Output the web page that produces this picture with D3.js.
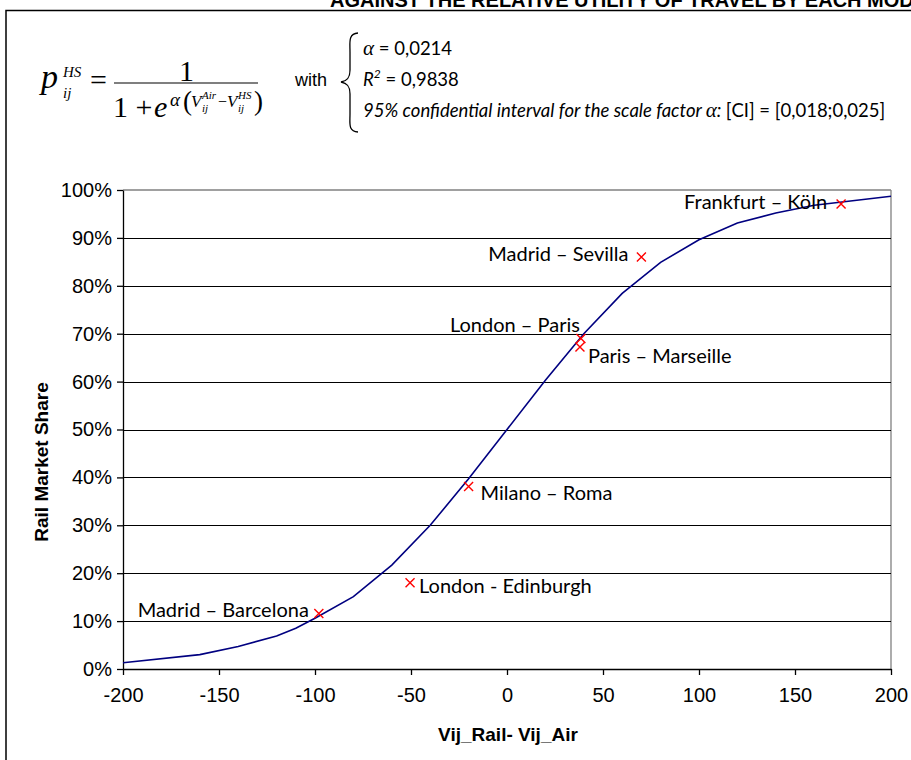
<!DOCTYPE html>
<html><head><meta charset="utf-8">
<script src="https://cdn.jsdelivr.net/npm/d3@7"></script>
<style>body{margin:0;background:#fff}svg{display:block}</style>
</head><body>
<svg id="c" width="911" height="760"></svg>
<script>
// ---- data ----
const curveX = [-200,-160,-140,-120,-110,-100,-80,-60,-40,-20,0,20,40,60,80,100,120,140,160,200];
const curveY = [0.013,0.030,0.047,0.069,0.085,0.106,0.151,0.217,0.300,0.397,0.500,0.603,0.700,0.784,0.849,0.896,0.931,0.952,0.968,0.987];
const routes = ["Madrid – Barcelona","London - Edinburgh","Milano – Roma","London – Paris","Paris – Marseille","Madrid – Sevilla","Frankfurt – Köln"];
const routeX = [-98,-50.5,-20,38.5,38,70,174];
const routeY = [0.116,0.180,0.381,0.690,0.672,0.860,0.971];
const xTicks = [-200,-150,-100,-50,0,50,100,150,200];
const yTicks = [0,0.1,0.2,0.3,0.4,0.5,0.6,0.7,0.8,0.9,1.0];
// label placement (px offsets from marker)
const labelPos = [
  {a:"end",dx:-10,dy:4},{a:"start",dx:9,dy:10},{a:"start",dx:12,dy:13},
  {a:"end",dx:-1,dy:-6},{a:"start",dx:8,dy:16},{a:"end",dx:-13,dy:4},{a:"end",dx:-14,dy:5}];

const svg = d3.select("#c");
const L=123,R=891,T=190,B=669;
const x = d3.scaleLinear().domain([-200,200]).range([L,R]);
const y = d3.scaleLinear().domain([0,1]).range([B,T]);

// title (cut off at top, as in the reference)
svg.append("text").attr("x",330).attr("y",7).attr("font-family","Liberation Sans, Arial").attr("font-weight","bold")
  .attr("font-size",20).attr("fill","#000").text("AGAINST THE RELATIVE UTILITY OF TRAVEL BY EACH MODE");

// outer frame
svg.append("rect").attr("x",6).attr("y",10.5).attr("width",1000).attr("height",1000)
  .attr("fill","none").attr("stroke","#000").attr("stroke-width",1.5);

// formula
const f = svg.append("g").attr("font-family","Liberation Serif, Times New Roman, serif").attr("fill","#000");
f.append("text").attr("x",41).attr("y",88).attr("font-size",34).attr("font-style","italic").text("p");
f.append("text").attr("x",63).attr("y",77).attr("font-size",15).attr("font-style","italic").text("HS");
f.append("text").attr("x",63).attr("y",98).attr("font-size",15).attr("font-style","italic").text("ij");
f.append("text").attr("x",90).attr("y",90).attr("font-size",30).text("=");
f.append("line").attr("x1",114).attr("x2",258).attr("y1",83).attr("y2",83).attr("stroke","#000").attr("stroke-width",1.2);
f.append("text").attr("x",179).attr("y",81).attr("font-size",30).text("1");
f.append("text").attr("x",113).attr("y",117).attr("font-size",30).text("1 + ");
f.append("text").attr("x",154).attr("y",117).attr("font-size",30).attr("font-style","italic").text("e");
f.append("text").attr("x",170).attr("y",106).attr("font-size",19).attr("font-style","italic").text("α");
f.append("text").attr("x",183).attr("y",110).attr("font-size",27).text("(");
f.append("text").attr("x",191).attr("y",107).attr("font-size",17).attr("font-style","italic").text("V");
f.append("text").attr("x",202).attr("y",99).attr("font-size",11).attr("font-style","italic").text("Air");
f.append("text").attr("x",202).attr("y",112).attr("font-size",11).attr("font-style","italic").text("ij");
f.append("text").attr("x",218).attr("y",107).attr("font-size",16).text("−");
f.append("text").attr("x",227).attr("y",107).attr("font-size",17).attr("font-style","italic").text("V");
f.append("text").attr("x",238).attr("y",99).attr("font-size",11).attr("font-style","italic").text("HS");
f.append("text").attr("x",238).attr("y",112).attr("font-size",11).attr("font-style","italic").text("ij");
f.append("text").attr("x",254).attr("y",110).attr("font-size",27).text(")");

svg.append("text").attr("x",295).attr("y",86).attr("font-family","Liberation Sans, Arial").attr("font-size",18).text("with");
// brace
svg.append("path").attr("d","M358,33 C348,34 350,42 350,52 L350,70 C350,78 347,81 341,82 C347,83 350,86 350,94 L350,114 C350,124 348,131 358,132")
  .attr("fill","none").attr("stroke","#000").attr("stroke-width",1.3);
const g2 = svg.append("g").attr("font-family","Lato, Noto Sans, sans-serif").attr("font-size",18.5).attr("fill","#000");
const t1 = g2.append("text").attr("x",363).attr("y",55);
t1.append("tspan").attr("font-family","Liberation Serif, serif").attr("font-style","italic").attr("font-size",21).text("α");
t1.append("tspan").text(" = 0,0214");
const t2 = g2.append("text").attr("x",363).attr("y",86);
t2.append("tspan").attr("font-style","italic").text("R");
t2.append("tspan").attr("font-style","italic").attr("font-size",12).attr("dy",-8).text("2");
t2.append("tspan").attr("dy",8).text(" =  0,9838");
const t3 = g2.append("text").attr("x",363).attr("y",117);
t3.append("tspan").attr("font-style","italic").text("95% confidential interval for the scale factor ");
t3.append("tspan").attr("font-family","Liberation Serif, serif").attr("font-style","italic").attr("font-size",21).text("α");
t3.append("tspan").attr("font-style","italic").text(": ");
t3.append("tspan").text("[CI] = [0,018;0,025]");

// plot frame top & right (gray)
svg.append("line").attr("x1",L).attr("x2",R).attr("y1",T).attr("y2",T).attr("stroke","#808080").attr("stroke-width",1.3);
svg.append("line").attr("x1",R).attr("x2",R).attr("y1",T).attr("y2",B).attr("stroke","#808080").attr("stroke-width",1.3);

// grid
svg.append("g").selectAll("line").data(yTicks.filter(d=>d>0&&d<1)).join("line")
  .attr("x1",L).attr("x2",R).attr("y1",d=>Math.round(y(d))+0.5).attr("y2",d=>Math.round(y(d))+0.5).attr("stroke","#000").attr("stroke-width",1);

// axes
const ax = svg.append("g").attr("transform",`translate(0,${B})`)
  .call(d3.axisBottom(x).tickValues(xTicks).tickSize(6).tickSizeOuter(0).tickFormat(d=>String(d)).tickPadding(13));
const ay = svg.append("g").attr("transform",`translate(${L},0)`)
  .call(d3.axisLeft(y).tickValues(yTicks).tickSize(6).tickSizeOuter(0).tickFormat(d=>Math.round(d*100)+"%").tickPadding(5));
[ax,ay].forEach(a=>{
  a.selectAll("text").attr("font-family","Liberation Sans, Arial").attr("font-size",20).attr("fill","#000");
  a.selectAll("path,line").attr("stroke","#000").attr("stroke-width",1.3);
});

// curve
svg.append("path").datum(curveX.map((d,i)=>[d,curveY[i]]))
  .attr("d",d3.line().x(d=>x(d[0])).y(d=>y(d[1])))
  .attr("fill","none").attr("stroke","#000080").attr("stroke-width",1.6);

// markers
const pts = routes.map((r,i)=>({r,x:routeX[i],y:routeY[i],p:labelPos[i]}));
const m = svg.append("g").selectAll("g").data(pts).join("g").attr("transform",d=>`translate(${x(d.x)},${y(d.y)})`);
m.append("path").attr("d","M-4.5,-4.5L4.5,4.5M-4.5,4.5L4.5,-4.5").attr("stroke","#FF0000").attr("stroke-width",1.4);
m.append("text").attr("x",d=>d.p.dx).attr("y",d=>d.p.dy).attr("text-anchor",d=>d.p.a)
  .attr("font-family","Lato, Noto Sans, sans-serif").attr("font-size",20).attr("fill","#000").text(d=>d.r);

// axis titles
svg.append("text").attr("x",(L+R)/2+1).attr("y",741).attr("text-anchor","middle").attr("font-family","Liberation Sans, Arial")
  .attr("font-weight","bold").attr("font-size",19).text("Vij_Rail- Vij_Air");
svg.append("text").attr("transform","translate(48,462) rotate(-90)").attr("text-anchor","middle").attr("font-family","Liberation Sans, Arial")
  .attr("font-weight","bold").attr("font-size",19).text("Rail Market Share");
</script>
</body></html>
